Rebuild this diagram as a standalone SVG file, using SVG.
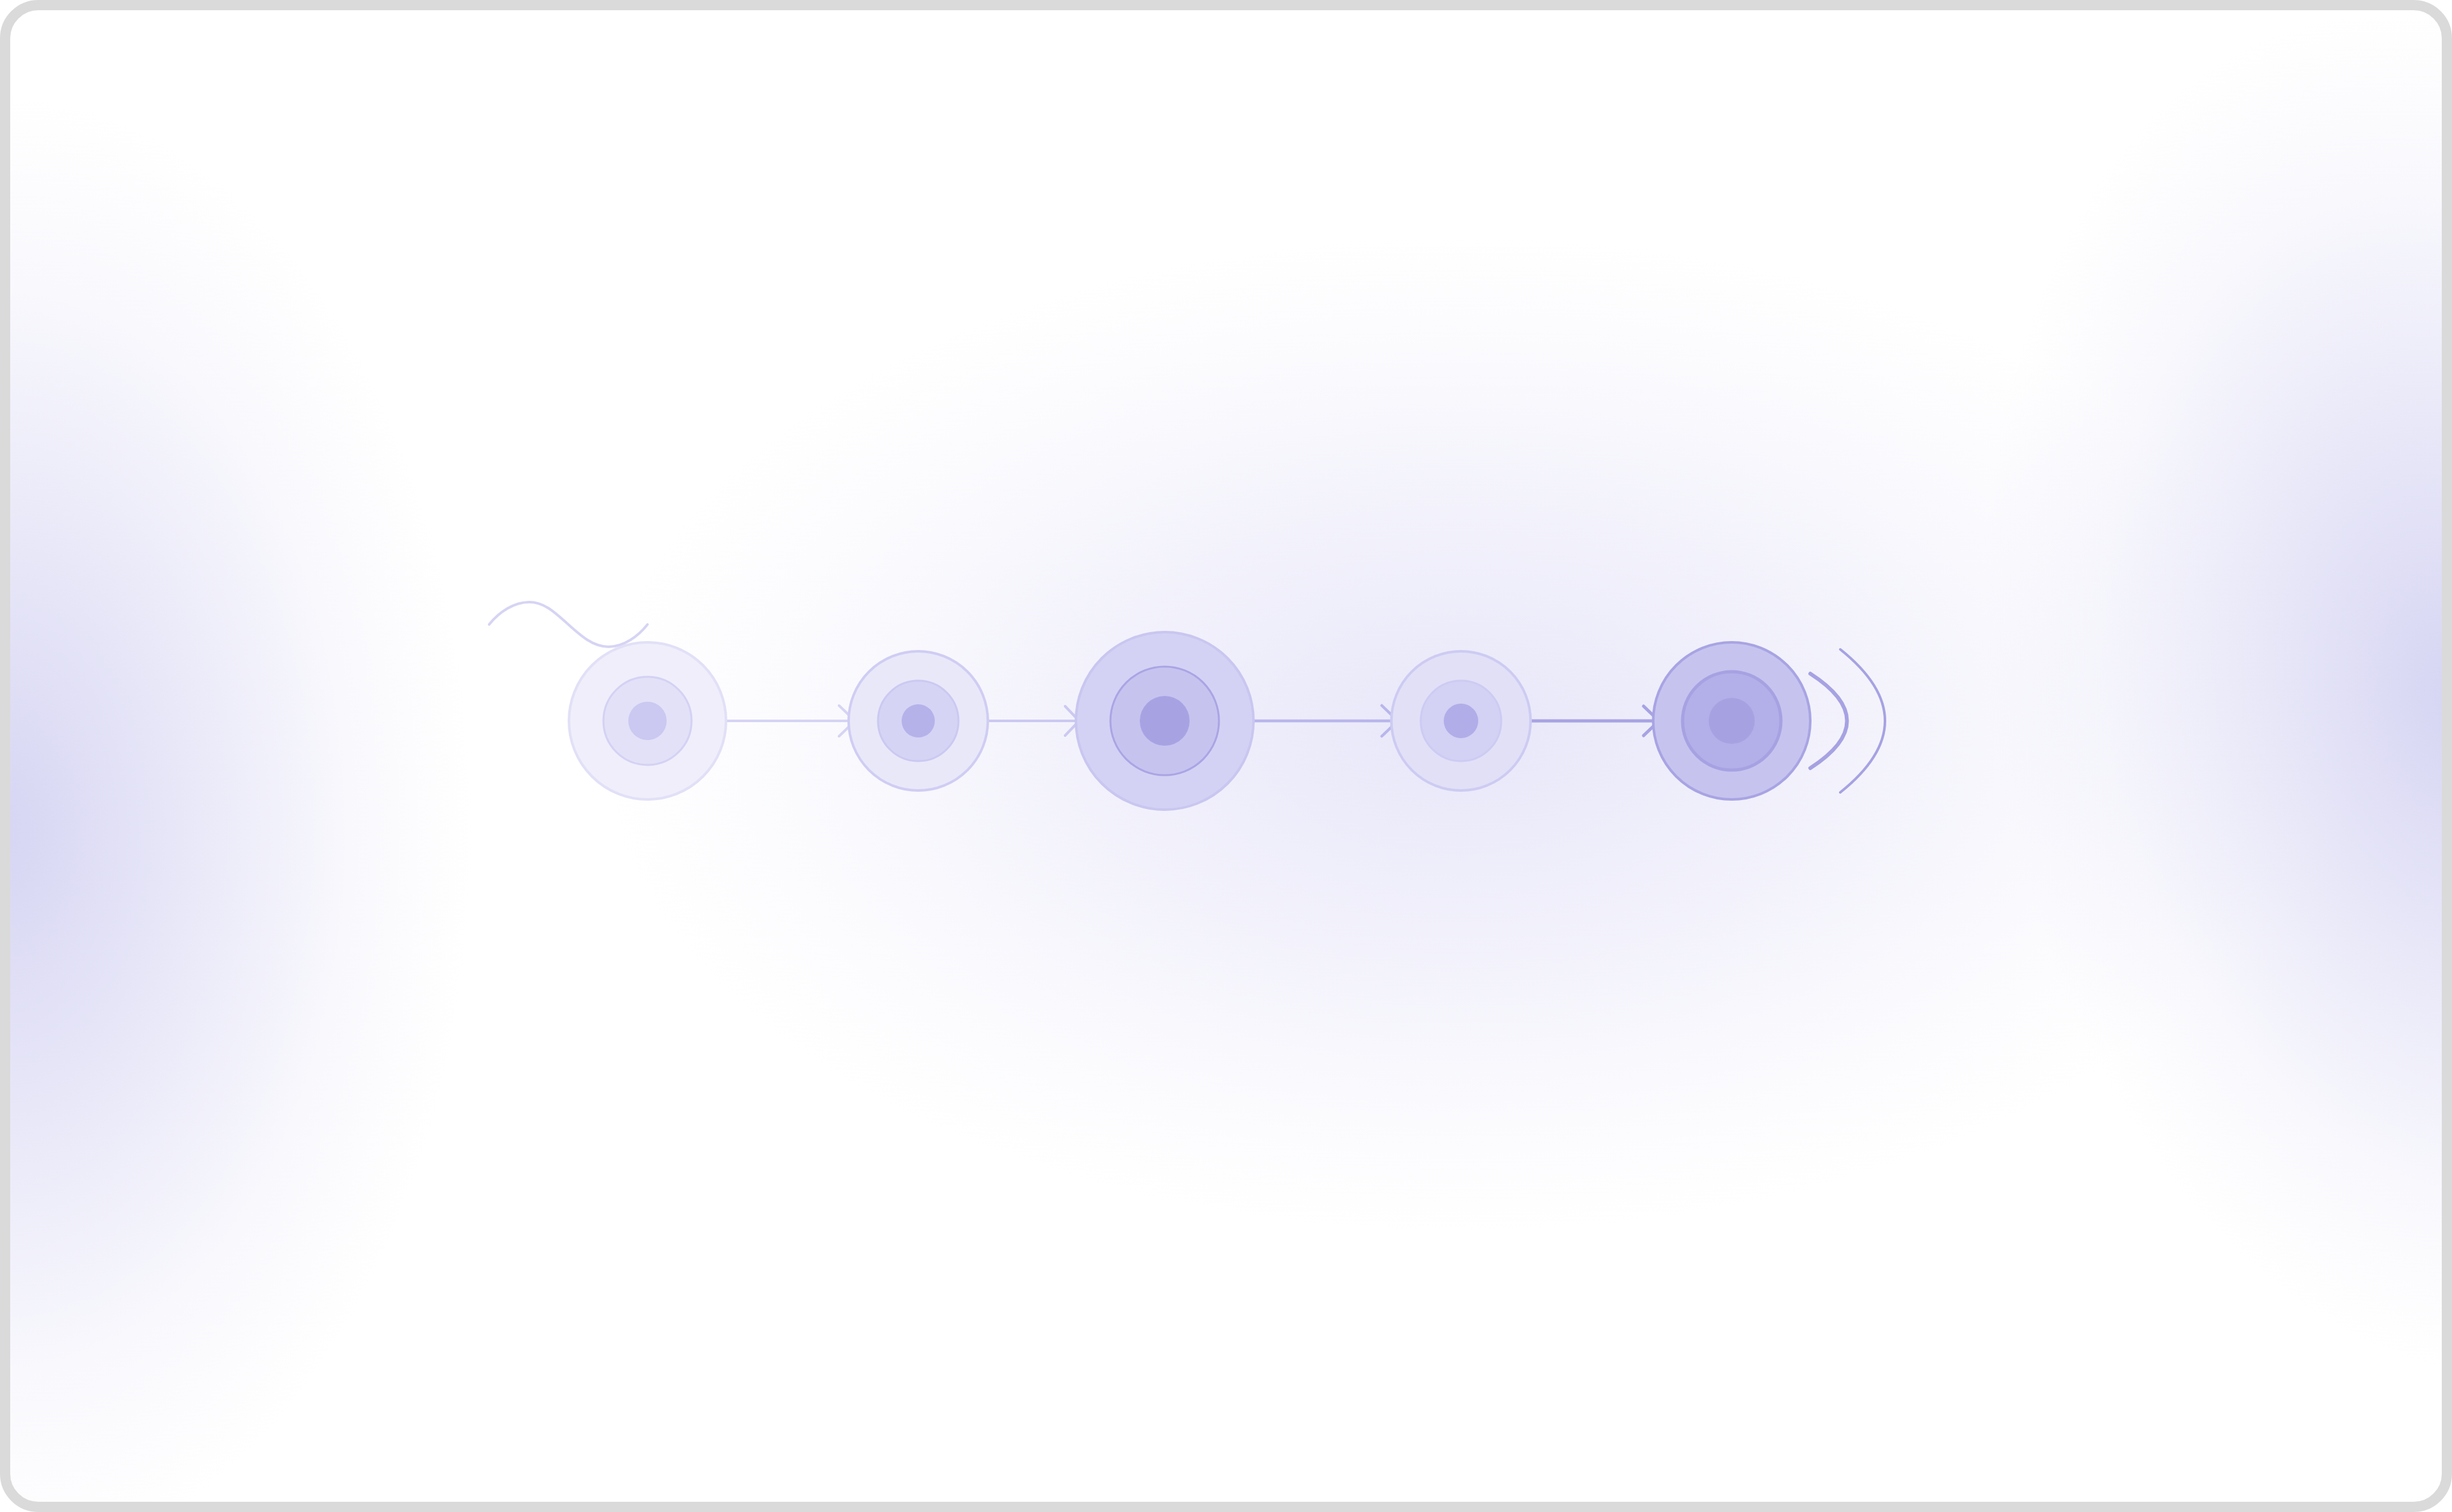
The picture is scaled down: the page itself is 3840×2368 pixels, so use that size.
<svg xmlns="http://www.w3.org/2000/svg" width="3840" height="2368" viewBox="0 0 3840 2368">
<defs>
<radialGradient id="gC" cx="2290" cy="1150" r="1" gradientUnits="userSpaceOnUse" gradientTransform="translate(2290 1150) scale(1350 780) translate(-2290 -1150)">
<stop offset="0" stop-color="#e8e7f9" stop-opacity="1"/>
<stop offset="0.4" stop-color="#e8e7f9" stop-opacity="0.6"/>
<stop offset="0.75" stop-color="#e8e7f9" stop-opacity="0.2"/>
<stop offset="1" stop-color="#e8e7f9" stop-opacity="0"/>
</radialGradient>
<radialGradient id="gL" cx="0" cy="1300" r="1" gradientUnits="userSpaceOnUse" gradientTransform="translate(0 1300) scale(740 1150) translate(0 -1300)">
<stop offset="0" stop-color="#d6d5f3" stop-opacity="1"/>
<stop offset="0.4" stop-color="#d6d5f3" stop-opacity="0.55"/>
<stop offset="0.75" stop-color="#d6d5f3" stop-opacity="0.15"/>
<stop offset="1" stop-color="#d6d5f3" stop-opacity="0"/>
</radialGradient>
<radialGradient id="gR" cx="3840" cy="1090" r="1" gradientUnits="userSpaceOnUse" gradientTransform="translate(3840 1090) rotate(-10) scale(720 1080) translate(-3840 -1090)">
<stop offset="0" stop-color="#d6d5f3" stop-opacity="1"/>
<stop offset="0.4" stop-color="#d6d5f3" stop-opacity="0.55"/>
<stop offset="0.75" stop-color="#d6d5f3" stop-opacity="0.15"/>
<stop offset="1" stop-color="#d6d5f3" stop-opacity="0"/>
</radialGradient>
<clipPath id="frame"><rect x="8" y="8" width="3824" height="2352" rx="52"/></clipPath>
</defs>
<style>
.edge{fill:none;stroke-linecap:round;stroke-linejoin:round}
.wave{fill:none;stroke:#d6d4f4;stroke-width:4;stroke-linecap:round}
.arc{fill:none;stroke:#a6a2e2;stroke-linecap:round}
</style>
<rect x="0" y="0" width="3840" height="2368" fill="#ffffff"/>
<g clip-path="url(#frame)">
<rect x="0" y="0" width="3840" height="2368" fill="#ffffff"/>
<rect x="0" y="0" width="3840" height="2368" fill="url(#gC)"/>
<rect x="0" y="0" width="3840" height="2368" fill="url(#gL)"/>
<rect x="0" y="0" width="3840" height="2368" fill="url(#gR)"/>
</g>
<rect x="8" y="8" width="3824" height="2352" rx="52" fill="none" stroke="#dadada" stroke-width="16"/>

<g id="connectors">
<path class="edge" d="M1138 1129 H1338 M1314 1105 L1339 1129 L1314 1153" stroke="#d6d4f4" stroke-width="4"/>
<path class="edge" d="M1549 1129 H1688 M1668 1106 L1690 1129 L1668 1152" stroke="#cbc9f1" stroke-width="4"/>
<path class="edge" d="M1964 1129 H2187 M2164 1105 L2189 1129 L2164 1153" stroke="#b9b6ec" stroke-width="4.5"/>
<path class="edge" d="M2398 1129 H2596 M2574 1106 L2598 1129 L2574 1152" stroke="#a7a3e3" stroke-width="5"/>
</g>

<g id="wave">
<path class="wave" d="M766 978 C782 958, 805 943, 829 943 C853 943, 870 960, 890 978 C910 996, 929 1013, 953 1013 C977 1013, 1000 996, 1014 978"/>
</g>

<g id="node1">
<circle cx="1014" cy="1129" r="123" fill="#efeefa" stroke="#e1e0f7" stroke-width="4"/>
<circle cx="1014" cy="1129" r="69" fill="#e2e1f7" stroke="#d3d1f4" stroke-width="3"/>
<circle cx="1014" cy="1129" r="30" fill="#cbc8f1"/>
</g>
<g id="node2">
<circle cx="1438" cy="1129" r="109" fill="#e9e8f9" stroke="#cfcdf3" stroke-width="4"/>
<circle cx="1438" cy="1129" r="63" fill="#d6d4f4" stroke="#cbc9f1" stroke-width="3"/>
<circle cx="1438" cy="1129" r="26" fill="#b5b2ea"/>
</g>
<g id="node3">
<circle cx="1824" cy="1129" r="139" fill="#d4d2f4" stroke="#c9c6f0" stroke-width="4"/>
<circle cx="1824" cy="1129" r="85" fill="#c6c3ef" stroke="#a9a5e4" stroke-width="3"/>
<circle cx="1824" cy="1129" r="39" fill="#a7a3e3"/>
</g>
<g id="node4">
<circle cx="2288" cy="1129" r="109" fill="#e1e0f7" stroke="#cdcbf2" stroke-width="4"/>
<circle cx="2288" cy="1129" r="63" fill="#d3d1f4" stroke="#cdcbf2" stroke-width="3"/>
<circle cx="2288" cy="1129" r="27" fill="#b0ade8"/>
</g>
<g id="node5">
<circle cx="2712" cy="1129" r="123" fill="#c6c3ef" stroke="#a8a4e3" stroke-width="4"/>
<circle cx="2712" cy="1129" r="77" fill="#b3afe9" stroke="#a6a2e2" stroke-width="5"/>
<circle cx="2712" cy="1129" r="36" fill="#a6a2e2"/>
</g>
<g id="signal">
<path class="arc" d="M2835 1055 Q2950 1129 2835 1203" stroke-width="6"/>
<path class="arc" d="M2882 1017 Q3022 1129 2882 1241" stroke-width="4"/>
</g>
</svg>
